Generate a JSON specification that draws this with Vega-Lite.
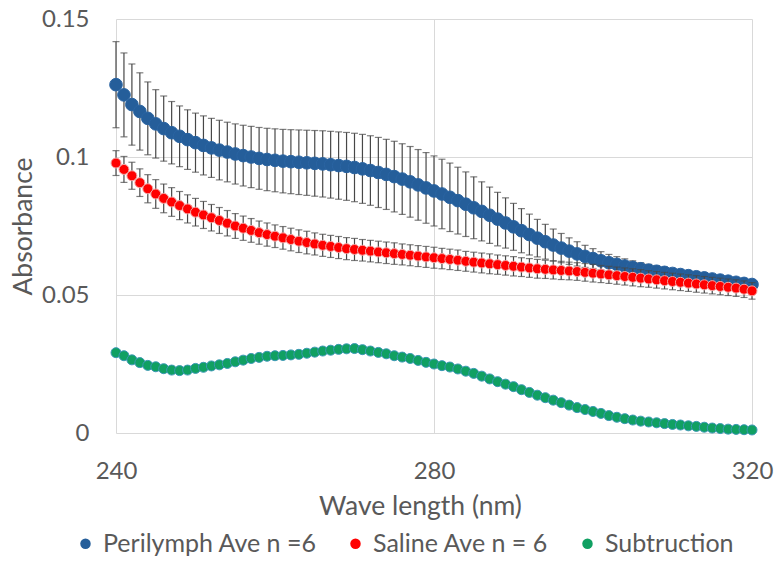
{
  "$schema": "https://vega.github.io/schema/vega-lite/v6.json",
  "width": 636,
  "height": 414,
  "autosize": {"type": "none"},
  "padding": {"left": 116, "top": 19, "right": 23, "bottom": 130},
  "background": "white",
  "config": {
    "view": {"stroke": null},
    "font": "Lato",
    "axis": {
      "grid": true, "gridColor": "#d9d9d9", "gridWidth": 1,
      "domain": false, "ticks": false, "labelFlush": false,
      "labelFont": "Lato", "labelFontSize": 24, "labelColor": "#595959",
      "titleFont": "Lato", "titleFontSize": 26.5, "titleColor": "#595959", "titleFontWeight": "normal"
    },
    "legend": {"labelFont": "Lato", "labelFontSize": 25, "labelColor": "#595959", "labelLimit": 0}
  },
  "data": {"values": [
    {"w":240,"p":0.1262,"pe":0.0156,"s":0.0978,"se":0.0045,"d":0.0291},
    {"w":241,"p":0.1225,"pe":0.0152,"s":0.0955,"se":0.0047,"d":0.0280},
    {"w":242,"p":0.1190,"pe":0.0147,"s":0.0932,"se":0.0049,"d":0.0265},
    {"w":243,"p":0.1165,"pe":0.0140,"s":0.0907,"se":0.0050,"d":0.0255},
    {"w":244,"p":0.1140,"pe":0.0132,"s":0.0885,"se":0.0051,"d":0.0245},
    {"w":245,"p":0.1120,"pe":0.0124,"s":0.0866,"se":0.0052,"d":0.0240},
    {"w":246,"p":0.1103,"pe":0.0118,"s":0.0850,"se":0.0052,"d":0.0233},
    {"w":247,"p":0.1088,"pe":0.0113,"s":0.0837,"se":0.0052,"d":0.0228},
    {"w":248,"p":0.1075,"pe":0.0110,"s":0.0824,"se":0.0051,"d":0.0226},
    {"w":249,"p":0.1063,"pe":0.0108,"s":0.0812,"se":0.0051,"d":0.0228},
    {"w":250,"p":0.1052,"pe":0.0107,"s":0.0800,"se":0.0050,"d":0.0234},
    {"w":251,"p":0.1042,"pe":0.0107,"s":0.0790,"se":0.0049,"d":0.0238},
    {"w":252,"p":0.1033,"pe":0.0107,"s":0.0780,"se":0.0048,"d":0.0243},
    {"w":253,"p":0.1025,"pe":0.0108,"s":0.0770,"se":0.0047,"d":0.0247},
    {"w":254,"p":0.1018,"pe":0.0108,"s":0.0760,"se":0.0046,"d":0.0252},
    {"w":255,"p":0.1011,"pe":0.0109,"s":0.0750,"se":0.0045,"d":0.0258},
    {"w":256,"p":0.1005,"pe":0.0110,"s":0.0742,"se":0.0044,"d":0.0264},
    {"w":257,"p":0.1000,"pe":0.0111,"s":0.0734,"se":0.0043,"d":0.0270},
    {"w":258,"p":0.0995,"pe":0.0112,"s":0.0726,"se":0.0042,"d":0.0274},
    {"w":259,"p":0.0991,"pe":0.0113,"s":0.0719,"se":0.0042,"d":0.0278},
    {"w":260,"p":0.0988,"pe":0.0114,"s":0.0713,"se":0.0041,"d":0.0280},
    {"w":261,"p":0.0985,"pe":0.0115,"s":0.0707,"se":0.0041,"d":0.0281},
    {"w":262,"p":0.0983,"pe":0.0116,"s":0.0701,"se":0.0041,"d":0.0283},
    {"w":263,"p":0.0981,"pe":0.0117,"s":0.0695,"se":0.0041,"d":0.0285},
    {"w":264,"p":0.0979,"pe":0.0118,"s":0.0690,"se":0.0041,"d":0.0289},
    {"w":265,"p":0.0977,"pe":0.0119,"s":0.0685,"se":0.0040,"d":0.0293},
    {"w":266,"p":0.0975,"pe":0.0120,"s":0.0680,"se":0.0040,"d":0.0297},
    {"w":267,"p":0.0972,"pe":0.0121,"s":0.0676,"se":0.0040,"d":0.0300},
    {"w":268,"p":0.0969,"pe":0.0122,"s":0.0672,"se":0.0040,"d":0.0303},
    {"w":269,"p":0.0966,"pe":0.0123,"s":0.0668,"se":0.0040,"d":0.0305},
    {"w":270,"p":0.0962,"pe":0.0124,"s":0.0665,"se":0.0040,"d":0.0306},
    {"w":271,"p":0.0957,"pe":0.0125,"s":0.0662,"se":0.0039,"d":0.0302},
    {"w":272,"p":0.0951,"pe":0.0126,"s":0.0659,"se":0.0039,"d":0.0297},
    {"w":273,"p":0.0944,"pe":0.0127,"s":0.0656,"se":0.0039,"d":0.0292},
    {"w":274,"p":0.0937,"pe":0.0127,"s":0.0653,"se":0.0039,"d":0.0287},
    {"w":275,"p":0.0929,"pe":0.0128,"s":0.0650,"se":0.0039,"d":0.0280},
    {"w":276,"p":0.0920,"pe":0.0128,"s":0.0647,"se":0.0038,"d":0.0275},
    {"w":277,"p":0.0910,"pe":0.0128,"s":0.0644,"se":0.0038,"d":0.0270},
    {"w":278,"p":0.0899,"pe":0.0128,"s":0.0641,"se":0.0038,"d":0.0263},
    {"w":279,"p":0.0888,"pe":0.0128,"s":0.0638,"se":0.0038,"d":0.0256},
    {"w":280,"p":0.0877,"pe":0.0127,"s":0.0635,"se":0.0038,"d":0.0250},
    {"w":281,"p":0.0866,"pe":0.0126,"s":0.0632,"se":0.0037,"d":0.0244},
    {"w":282,"p":0.0854,"pe":0.0124,"s":0.0629,"se":0.0037,"d":0.0239},
    {"w":283,"p":0.0842,"pe":0.0121,"s":0.0626,"se":0.0037,"d":0.0232},
    {"w":284,"p":0.0829,"pe":0.0117,"s":0.0622,"se":0.0036,"d":0.0224},
    {"w":285,"p":0.0816,"pe":0.0112,"s":0.0619,"se":0.0036,"d":0.0216},
    {"w":286,"p":0.0803,"pe":0.0107,"s":0.0616,"se":0.0036,"d":0.0206},
    {"w":287,"p":0.0789,"pe":0.0102,"s":0.0613,"se":0.0036,"d":0.0196},
    {"w":288,"p":0.0775,"pe":0.0097,"s":0.0610,"se":0.0035,"d":0.0186},
    {"w":289,"p":0.0761,"pe":0.0091,"s":0.0607,"se":0.0035,"d":0.0177},
    {"w":290,"p":0.0747,"pe":0.0085,"s":0.0604,"se":0.0035,"d":0.0168},
    {"w":291,"p":0.0733,"pe":0.0080,"s":0.0601,"se":0.0034,"d":0.0157},
    {"w":292,"p":0.0719,"pe":0.0074,"s":0.0598,"se":0.0034,"d":0.0147},
    {"w":293,"p":0.0706,"pe":0.0068,"s":0.0595,"se":0.0034,"d":0.0137},
    {"w":294,"p":0.0693,"pe":0.0063,"s":0.0593,"se":0.0033,"d":0.0128},
    {"w":295,"p":0.0681,"pe":0.0058,"s":0.0591,"se":0.0033,"d":0.0119},
    {"w":296,"p":0.0670,"pe":0.0053,"s":0.0589,"se":0.0033,"d":0.0110},
    {"w":297,"p":0.0659,"pe":0.0048,"s":0.0587,"se":0.0032,"d":0.0101},
    {"w":298,"p":0.0649,"pe":0.0044,"s":0.0585,"se":0.0032,"d":0.0092},
    {"w":299,"p":0.0640,"pe":0.0040,"s":0.0582,"se":0.0032,"d":0.0085},
    {"w":300,"p":0.0632,"pe":0.0036,"s":0.0579,"se":0.0032,"d":0.0078},
    {"w":301,"p":0.0624,"pe":0.0033,"s":0.0576,"se":0.0031,"d":0.0071},
    {"w":302,"p":0.0617,"pe":0.0030,"s":0.0573,"se":0.0031,"d":0.0063},
    {"w":303,"p":0.0611,"pe":0.0028,"s":0.0570,"se":0.0031,"d":0.0057},
    {"w":304,"p":0.0605,"pe":0.0026,"s":0.0567,"se":0.0031,"d":0.0052},
    {"w":305,"p":0.0600,"pe":0.0024,"s":0.0564,"se":0.0031,"d":0.0047},
    {"w":306,"p":0.0595,"pe":0.0022,"s":0.0561,"se":0.0031,"d":0.0043},
    {"w":307,"p":0.0590,"pe":0.0021,"s":0.0558,"se":0.0030,"d":0.0040},
    {"w":308,"p":0.0586,"pe":0.0020,"s":0.0555,"se":0.0030,"d":0.0037},
    {"w":309,"p":0.0582,"pe":0.0019,"s":0.0552,"se":0.0030,"d":0.0034},
    {"w":310,"p":0.0578,"pe":0.0018,"s":0.0549,"se":0.0030,"d":0.0031},
    {"w":311,"p":0.0574,"pe":0.0017,"s":0.0546,"se":0.0030,"d":0.0029},
    {"w":312,"p":0.0570,"pe":0.0017,"s":0.0543,"se":0.0030,"d":0.0026},
    {"w":313,"p":0.0566,"pe":0.0016,"s":0.0540,"se":0.0030,"d":0.0024},
    {"w":314,"p":0.0562,"pe":0.0016,"s":0.0537,"se":0.0030,"d":0.0021},
    {"w":315,"p":0.0558,"pe":0.0015,"s":0.0534,"se":0.0030,"d":0.0018},
    {"w":316,"p":0.0554,"pe":0.0015,"s":0.0531,"se":0.0030,"d":0.0016},
    {"w":317,"p":0.0550,"pe":0.0014,"s":0.0528,"se":0.0030,"d":0.0014},
    {"w":318,"p":0.0546,"pe":0.0014,"s":0.0525,"se":0.0030,"d":0.0013},
    {"w":319,"p":0.0542,"pe":0.0013,"s":0.0521,"se":0.0030,"d":0.0012},
    {"w":320,"p":0.0538,"pe":0.0013,"s":0.0515,"se":0.0030,"d":0.0011}
  ]},
  "encoding": {
    "x": {
      "field": "w", "type": "quantitative", "title": "Wave length (nm)",
      "scale": {"domain": [240, 320], "nice": false, "zero": false},
      "axis": {"values": [240, 280, 320], "labelPadding": 26, "titlePadding": 10, "titleX": 304, "titleAlign": "center"}
    }
  },
  "layer": [
    {
      "mark": {"type": "errorbar", "ticks": {"size": 7}, "color": "#474747", "thickness": 1.2},
      "encoding": {
        "y": {"field": "p", "type": "quantitative", "title": "Absorbance",
              "scale": {"domain": [0, 0.15], "nice": false},
              "axis": {"values": [0, 0.05, 0.1, 0.15], "format": "~g", "labelPadding": 27, "titlePadding": 4}},
        "yError": {"field": "pe"}
      }
    },
    {
      "mark": {"type": "point", "filled": true, "shape": "circle", "size": 160, "opacity": 1, "stroke": "#2a64a2", "strokeWidth": 1},
      "encoding": {
        "y": {"field": "p", "type": "quantitative", "title": "Absorbance"},
        "color": {
          "datum": "Perilymph Ave n =6", "type": "nominal",
          "scale": {"domain": ["Perilymph Ave n =6", "Saline Ave n = 6", "Subtruction"], "range": ["#255e9a", "#ff0000", "#10a062"]},
          "legend": {"title": null, "orient": "none", "direction": "horizontal", "legendX": -43, "legendY": 512, "symbolType": "circle", "symbolSize": 110, "symbolStrokeWidth": 0, "labelOffset": 5, "columnPadding": 26}
        }
      }
    },
    {
      "mark": {"type": "errorbar", "ticks": {"size": 7}, "color": "#474747", "thickness": 1.2},
      "encoding": {
        "y": {"field": "s", "type": "quantitative", "title": "Absorbance"},
        "yError": {"field": "se"}
      }
    },
    {
      "mark": {"type": "point", "filled": true, "shape": "circle", "size": 100, "opacity": 1, "stroke": "#f3a7a7", "strokeWidth": 1},
      "encoding": {
        "y": {"field": "s", "type": "quantitative", "title": "Absorbance"},
        "color": {"datum": "Saline Ave n = 6", "type": "nominal"}
      }
    },
    {
      "mark": {"type": "point", "filled": true, "shape": "circle", "size": 100, "opacity": 1, "stroke": "#3a98b4", "strokeWidth": 1},
      "encoding": {
        "y": {"field": "d", "type": "quantitative", "title": "Absorbance"},
        "color": {"datum": "Subtruction", "type": "nominal"}
      }
    }
  ]
}
